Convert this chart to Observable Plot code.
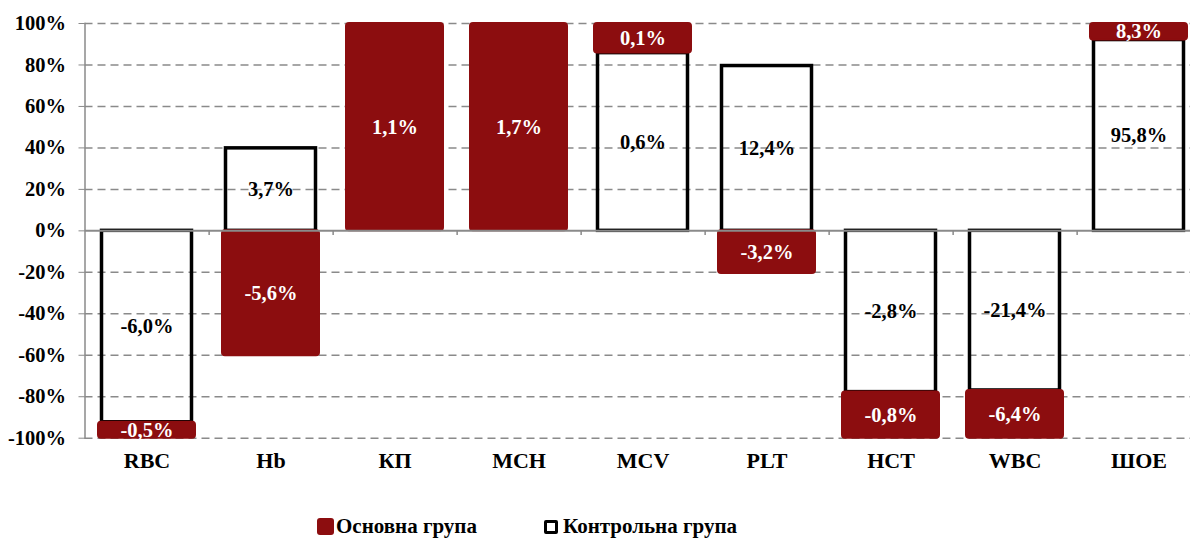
<!DOCTYPE html>
<html>
<head>
<meta charset="utf-8">
<script src="https://cdn.jsdelivr.net/npm/d3@7"></script>
<script src="https://cdn.jsdelivr.net/npm/@observablehq/plot@0.6"></script>
<style>
  html, body { margin: 0; padding: 0; background: #fff; overflow: hidden; }
  body { width: 1195px; height: 538px; position: relative; font-family: "Liberation Serif", "Times New Roman", serif; }
  #legend { position: absolute; left: 317px; top: 514px; display: flex; align-items: center; font-weight: bold; font-size: 21px; color: #000; }
  .item { display: flex; align-items: center; }
  .sw-main { width: 17px; height: 17px; background: #8c0d0f; border-radius: 3px; margin-right: 2px; }
  .sw-ctrl { width: 8px; height: 8px; border: 3px solid #000; border-radius: 2px; margin-right: 5px; }
</style>
</head>
<body>
<div id="chart"></div>
<div id="legend">
  <div class="item"><div class="sw-main"></div><span>Основна група</span></div>
  <div class="item" style="margin-left:67px"><div class="sw-ctrl"></div><span>Контрольна група</span></div>
</div>
<script>
const categories = ["RBC", "Hb", "КП", "MCH", "MCV", "PLT", "HCT", "WBC", "ШОЕ"];
const mainGroup = [-0.5, -5.6, 1.1, 1.7, 0.1, -3.2, -0.8, -6.4, 8.3];
const controlGroup = [-6.0, 3.7, null, null, 0.6, 12.4, -2.8, -21.4, 95.8];
const yTicks = [-100, -80, -60, -40, -20, 0, 20, 40, 60, 80, 100];
const seriesNames = ["Контрольна група", "Основна група"];

const RED = "#8c0d0f";
const fmt = v => v.toFixed(1).replace(".", ",") + "%";

// 100% stacked (shares of absolute sum), control stacked first
const rows = [];
categories.forEach((cat, i) => {
  const c = controlGroup[i], m = mainGroup[i];
  const total = Math.abs(c ?? 0) + Math.abs(m ?? 0);
  let pos = 0, neg = 0;
  [[seriesNames[0], c], [seriesNames[1], m]].forEach(([group, v]) => {
    if (v == null) return;
    const s = v / total * 100;
    let y1, y2;
    if (s >= 0) { y1 = pos; y2 = pos + s; pos = y2; }
    else { y1 = neg; y2 = neg + s; neg = y2; }
    rows.push({cat, group, value: v, y1, y2, label: fmt(v)});
  });
});
const ctrlRows = rows.filter(d => d.group === seriesNames[0]);
const mainRows = rows.filter(d => d.group === seriesNames[1]);

const FONT = "Liberation Serif, Times New Roman, serif";
const xRange = [83.2, 1201.6];
const step = (xRange[1] - xRange[0]) / categories.length;

const chart = Plot.plot({
  width: 1195,
  height: 480,
  marginTop: 23,
  marginBottom: 42.3,
  marginLeft: 84.5,
  marginRight: 5,
  style: {fontFamily: FONT, background: "transparent", overflow: "visible"},
  x: {domain: categories, range: xRange, paddingInner: 0.215, paddingOuter: 0.1075},
  y: {domain: [-100, 100]},
  marks: [
    Plot.ruleY(yTicks.filter(d => d !== 0), {stroke: "#8a8a8a", strokeWidth: 1.5, strokeDasharray: "8,5"}),
    Plot.frame({anchor: "left", stroke: "#8a8a8a", strokeWidth: 1.5}),
    Plot.axisY({ticks: yTicks, tickFormat: d => d + "%", tickSize: 6, tickPadding: 13, stroke: "#8a8a8a", fill: "#000",
      fontSize: 20.5, fontWeight: "bold", label: null}),
    Plot.rectY(ctrlRows, {x: "cat", y1: "y1", y2: "y2", fill: "none", stroke: "#000", strokeWidth: 3.5, insetLeft: 3.5, insetRight: 3.5}),
    Plot.rectY(mainRows, {x: "cat", y1: "y1", y2: "y2", fill: RED, stroke: RED, strokeWidth: 2, rx: 3}),
    Plot.ruleY([0], {stroke: "#8a8a8a", strokeWidth: 2}),
    Plot.ruleX(categories, {x: d => d, y1: 0, y2: -2.2, dx: step / 2, stroke: "#8a8a8a", strokeWidth: 1.5}),
    Plot.text(rows, {x: "cat", y: d => (d.y1 + d.y2) / 2, text: "label",
      fill: d => d.group === seriesNames[1] ? "#fff" : "#000", fontSize: 20.5, fontWeight: "bold"}),
    Plot.axisX({tickSize: 0, tickPadding: 14, fontSize: 22, fontWeight: "bold", fill: "#000", label: null})
  ]
});
document.getElementById("chart").appendChild(chart);
</script>
</body>
</html>
